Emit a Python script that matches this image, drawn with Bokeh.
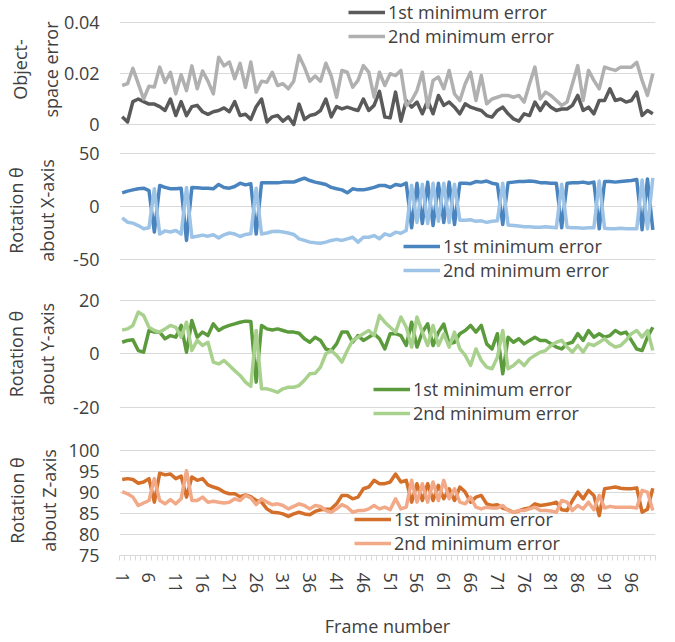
from bokeh.plotting import figure
from bokeh.layouts import column
from bokeh.models import Range1d, FixedTicker
from bokeh.embed import file_html
from bokeh.resources import INLINE

frames = list(range(1, 101))
x_tick_labels = list(range(1, 101, 5))

obj_1st = [0.0030, 0.0010, 0.0090, 0.0100, 0.0090, 0.0080, 0.0080, 0.0070, 0.0055, 0.0100,
           0.0035, 0.0090, 0.0035, 0.0070, 0.0075, 0.0050, 0.0040, 0.0050, 0.0055, 0.0065,
           0.0050, 0.0090, 0.0035, 0.0040, 0.0020, 0.0070, 0.0100, 0.0010, 0.0030, 0.0035,
           0.0013, 0.0030, 0.0000, 0.0080, 0.0020, 0.0035, 0.0040, 0.0055, 0.0100, 0.0030,
           0.0070, 0.0061, 0.0068, 0.0061, 0.0055, 0.0100, 0.0055, 0.0075, 0.0130, 0.0029,
           0.0026, 0.0127, 0.0013, 0.0094, 0.0068, 0.0088, 0.0042, 0.0094, 0.0042, 0.0114,
           0.0075, 0.0088, 0.0068, 0.0042, 0.0081, 0.0068, 0.0061, 0.0055, 0.0035, 0.0029,
           0.0055, 0.0068, 0.0042, 0.0022, 0.0013, 0.0042, 0.0035, 0.0088, 0.0055, 0.0088,
           0.0068, 0.0055, 0.0061, 0.0061, 0.0075, 0.0114, 0.0055, 0.0068, 0.0042, 0.0094,
           0.0094, 0.0140, 0.0094, 0.0100, 0.0088, 0.0094, 0.0127, 0.0035, 0.0055, 0.0042]
obj_2nd = [0.0153, 0.0160, 0.0220, 0.0160, 0.0100, 0.0150, 0.0147, 0.0225, 0.0165, 0.0205,
           0.0120, 0.0195, 0.0133, 0.0230, 0.0140, 0.0210, 0.0170, 0.0120, 0.0264, 0.0230,
           0.0245, 0.0180, 0.0240, 0.0146, 0.0245, 0.0127, 0.0170, 0.0166, 0.0205, 0.0153,
           0.0160, 0.0140, 0.0170, 0.0270, 0.0225, 0.0170, 0.0190, 0.0170, 0.0240, 0.0190,
           0.0107, 0.0212, 0.0205, 0.0146, 0.0173, 0.0231, 0.0205, 0.0107, 0.0205, 0.0153,
           0.0199, 0.0192, 0.0212, 0.0075, 0.0094, 0.0133, 0.0205, 0.0068, 0.0173, 0.0186,
           0.0140, 0.0212, 0.0120, 0.0094, 0.0160, 0.0205, 0.0094, 0.0192, 0.0081, 0.0100,
           0.0107, 0.0114, 0.0114, 0.0107, 0.0114, 0.0088, 0.0160, 0.0225, 0.0100, 0.0127,
           0.0114, 0.0094, 0.0075, 0.0088, 0.0160, 0.0231, 0.0094, 0.0212, 0.0173, 0.0140,
           0.0225, 0.0218, 0.0212, 0.0225, 0.0225, 0.0225, 0.0244, 0.0173, 0.0114, 0.0199]

rotx_1st = [12.9, 14.5, 15.7, 16.7, 17.3, 15.0, -24.0, 19.8, 18.0, 16.7,
            16.7, 17.3, -32.0, 18.0, 17.6, 17.3, 17.3, 16.7, 20.8, 18.0,
            17.3, 18.9, 22.0, 20.4, 21.4, -26.0, 22.3, 22.3, 22.3, 22.3,
            23.0, 23.0, 23.0, 25.0, 26.7, 24.5, 23.0, 22.0, 20.8, 18.0,
            16.7, 15.7, 12.9, 16.7, 15.7, 15.7, 16.7, 18.0, 19.8, 19.8,
            18.0, 20.8, 19.8, 22.0, -20.0, 22.0, -16.0, 23.0, -18.0, 22.0,
            -15.0, 23.0, -17.0, 22.0, 22.0, 21.5, 23.5, 23.0, 24.0, 22.0,
            21.0, -17.0, 22.5, 23.0, 23.5, 23.5, 24.0, 23.5, 22.5, 22.5,
            22.0, 22.0, -20.0, 22.0, 22.5, 22.5, 23.0, 22.0, 23.0, -21.0,
            23.5, 23.5, 23.0, 23.5, 24.0, 24.5, 25.5, -22.0, 26.0, -22.0]
rotx_2nd = [-10.7, -14.8, -15.7, -18.0, -21.0, -20.0, 16.7, -26.0, -23.0, -24.0,
            -22.6, -26.0, 18.0, -29.0, -28.0, -27.0, -28.0, -26.7, -29.6, -26.7,
            -25.0, -26.0, -28.3, -26.4, -25.8, 17.3, -26.0, -25.0, -23.6, -23.3,
            -24.0, -25.0, -26.4, -30.5, -32.0, -33.6, -34.3, -34.6, -33.6, -32.0,
            -31.0, -32.0, -30.5, -29.0, -33.6, -29.0, -29.0, -27.4, -30.5, -25.8,
            -27.4, -24.2, -25.2, -22.6, 20.0, -15.0, 21.0, -16.0, 22.0, -14.0,
            22.0, -15.0, 21.0, -13.0, -13.0, -12.5, -14.0, -13.5, -15.0, -14.0,
            -13.5, 22.0, -17.5, -18.0, -18.5, -19.0, -19.0, -19.5, -19.5, -19.0,
            -19.5, -20.0, 21.0, -19.5, -20.0, -20.0, -20.5, -20.0, -20.0, 24.0,
            -20.5, -21.0, -21.0, -20.5, -21.0, -21.0, -21.0, 25.0, -21.0, 27.0]

roty_1st = [4.2, 4.9, 5.1, 1.1, 0.5, 8.6, 8.0, 8.0, 5.5, 6.7,
            6.1, 10.5, 0.5, 12.3, 6.1, 8.0, 6.7, 11.1, 8.6, 9.8,
            10.5, 11.1, 11.7, 12.1, 12.0, -10.7, 10.5, 9.2, 8.8, 9.2,
            8.6, 8.0, 8.0, 7.6, 5.5, 4.2, 6.1, 4.9, 1.7, 1.1,
            3.6, 8.0, 8.0, 4.2, 6.7, 4.9, 6.1, 7.4, 5.5, 1.7,
            7.4, 7.4, 6.7, 3.0, 11.7, 2.4, 8.0, 11.1, 3.0, 8.0,
            11.0, 3.6, 4.2, 7.4, 8.6, 10.5, 8.0, 10.5, 3.6, 1.7,
            7.4, -7.6, 6.1, 4.2, 5.5, 3.6, 4.9, 6.1, 4.9, 4.9,
            3.6, 2.4, 1.7, 3.6, 4.2, 7.4, 4.9, 8.6, 6.1, 7.4,
            6.1, 6.7, 8.6, 7.4, 8.0, 4.9, 1.7, 1.1, 6.1, 9.8]
roty_2nd = [8.8, 9.2, 10.5, 15.5, 14.2, 9.8, 8.6, 8.0, 9.2, 10.5,
            9.8, 6.1, 11.7, 1.1, 4.9, 3.0, 4.2, -3.2, -3.9, -2.6,
            -4.5, -6.4, -8.2, -10.7, -12.3, 8.6, -13.2, -13.2, -13.8, -14.5,
            -13.2, -12.6, -12.6, -12.0, -10.0, -7.6, -7.4, -5.1, -0.1, 1.1,
            -0.7, -3.2, 1.1, 4.9, 6.1, 7.4, 8.6, 6.7, 14.2, 11.7,
            9.8, 8.0, 13.6, 9.8, 2.4, 13.6, 8.0, 3.0, 10.5, 3.0,
            7.4, 2.4, 8.0, 1.7, -0.7, -4.5, 1.7, -2.6, -5.1, -5.7,
            -1.4, 8.6, -5.7, -4.5, -2.6, -4.5, -2.0, -0.7, 0.5, 1.1,
            3.0, 4.2, 4.9, 2.4, 0.5, 3.0, 0.5, 3.6, 3.0, 4.2,
            5.5, 3.6, 2.4, 3.0, 4.9, 7.4, 8.6, 6.1, 8.6, 1.1]

rotz_1st = [93.1, 93.3, 93.1, 92.2, 92.5, 93.3, 87.7, 94.6, 94.2, 94.4,
            93.3, 93.9, 88.9, 93.7, 92.9, 93.3, 91.8, 91.3, 90.9, 90.1,
            89.7, 89.7, 89.0, 89.4, 89.0, 88.1, 87.7, 86.1, 85.3, 85.2,
            84.9, 84.3, 84.9, 85.3, 84.9, 84.7, 85.5, 85.9, 86.0, 86.1,
            87.3, 89.3, 89.3, 88.5, 88.9, 90.9, 91.3, 92.9, 92.1, 92.1,
            92.5, 94.4, 92.5, 92.9, 87.7, 92.1, 88.1, 92.1, 88.1, 91.7,
            88.5, 90.9, 88.1, 91.3, 90.1, 87.7, 88.9, 89.3, 87.3, 86.9,
            87.1, 86.3, 85.9, 85.3, 85.6, 86.1, 86.3, 87.3, 86.9, 87.1,
            87.3, 87.7, 85.9, 85.7, 88.1, 90.1, 88.5, 90.5, 89.3, 84.5,
            90.9, 91.1, 91.3, 91.0, 90.9, 90.9, 91.1, 85.3, 86.0, 91.0]
rotz_2nd = [90.2, 89.7, 88.9, 86.9, 87.5, 88.1, 93.3, 88.1, 87.3, 88.3,
            87.3, 88.5, 95.2, 88.1, 88.1, 88.9, 87.7, 87.9, 87.7, 87.5,
            87.7, 88.5, 88.1, 89.3, 88.7, 87.1, 88.5, 87.7, 87.1, 87.3,
            86.9, 86.1, 86.7, 87.3, 86.9, 86.1, 86.9, 86.7, 85.7, 85.3,
            86.1, 87.1, 86.5, 85.3, 85.7, 85.7, 86.1, 86.9, 86.1, 86.5,
            85.9, 88.5, 86.1, 86.5, 92.9, 87.7, 92.1, 87.7, 92.5, 88.1,
            92.9, 88.5, 90.9, 87.7, 87.3, 88.9, 86.5, 86.1, 86.5, 86.3,
            86.3, 86.9, 85.7, 85.3, 85.7, 85.7, 86.1, 86.5, 85.7, 85.7,
            85.6, 85.3, 88.1, 87.7, 85.7, 86.9, 86.1, 87.7, 85.9, 89.3,
            86.3, 86.7, 86.5, 86.5, 86.5, 86.5, 86.3, 90.5, 90.1, 85.7]

series_names = ["1st minimum error", "2nd minimum error"]

FONT = "Open Sans"
TXT = "#404040"
GRID = "#D9D9D9"
FS = "18px"

x_range = Range1d(0.5, 100.5)


def make_panel(height, y0, y1, ticks, labels, title, first, second, colors,
               border_top, border_bottom, title_standoff, legend_loc, legend_spacing,
               show_x=False):
    p = figure(width=675, height=height, x_range=x_range, y_range=Range1d(y0, y1),
               output_backend="svg", toolbar_location=None,
               x_axis_location="below" if show_x else None,
               min_border_left=117, min_border_right=20,
               min_border_top=border_top, min_border_bottom=border_bottom)
    p.outline_line_color = None
    p.background_fill_color = "white"
    p.border_fill_color = "white"
    t = FixedTicker(ticks=ticks)
    p.yaxis.ticker = t
    p.ygrid.ticker = t
    p.ygrid.grid_line_color = GRID
    p.ygrid.grid_line_width = 1
    p.yaxis.major_label_overrides = {k: v for k, v in zip(ticks, labels)}
    p.yaxis.axis_line_color = None
    p.yaxis.major_tick_line_color = None
    p.yaxis.minor_tick_line_color = None
    p.yaxis.major_tick_out = 0
    p.yaxis.major_tick_in = 0
    p.yaxis.major_label_standoff = 20
    p.yaxis.major_label_text_font = FONT
    p.yaxis.major_label_text_font_size = FS
    p.yaxis.major_label_text_color = TXT
    p.yaxis.axis_label = title
    p.yaxis.axis_label_text_font = FONT
    p.yaxis.axis_label_text_font_size = FS
    p.yaxis.axis_label_text_font_style = "normal"
    p.yaxis.axis_label_text_color = TXT
    p.yaxis.axis_label_text_line_height = 1.3
    p.yaxis.axis_label_standoff = title_standoff
    p.xgrid.visible = False
    if show_x:
        xt = FixedTicker(ticks=x_tick_labels, minor_ticks=[k + 0.5 for k in range(0, 101)])
        p.xaxis.ticker = xt
        p.xaxis.axis_line_color = GRID
        p.xaxis.axis_line_width = 1
        p.xaxis.major_tick_line_color = None
        p.xaxis.major_tick_out = 0
        p.xaxis.major_tick_in = 0
        p.xaxis.minor_tick_line_color = GRID
        p.xaxis.minor_tick_out = 5
        p.xaxis.minor_tick_in = 0
        p.xaxis.major_label_orientation = "vertical"
        p.xaxis.major_label_standoff = 12
        p.xaxis.major_label_text_font = FONT
        p.xaxis.major_label_text_font_size = FS
        p.xaxis.major_label_text_color = TXT
        p.xaxis.axis_label = "Frame number"
        p.xaxis.axis_label_text_font = FONT
        p.xaxis.axis_label_text_font_size = FS
        p.xaxis.axis_label_text_font_style = "normal"
        p.xaxis.axis_label_text_color = TXT
        p.xaxis.axis_label_standoff = 18

    p.line(frames, first, line_color=colors[0], line_width=3.5, line_join="round",
           legend_label=series_names[0])
    p.line(frames, second, line_color=colors[1], line_width=3.5, line_join="round",
           legend_label=series_names[1])
    lg = p.legend[0]
    lg.location = legend_loc
    lg.background_fill_alpha = 0
    lg.border_line_color = None
    lg.padding = 0
    lg.margin = 0
    lg.spacing = legend_spacing
    lg.glyph_width = 37
    lg.glyph_height = 20
    lg.label_height = 20
    lg.label_standoff = 3
    lg.label_text_font = FONT
    lg.label_text_font_size = FS
    lg.label_text_color = TXT
    return p


p1 = make_panel(138, -14 / 2550, 124 / 2550, [0, 0.02, 0.04], ["0", "0.02", "0.04"],
                "Object-\nspace error", obj_1st, obj_2nd, ["#5A5A5A", "#B0B0B0"],
                0, 0, -2, (229, 90), -3)
p2 = make_panel(144, -76 / 1.06, 68 / 1.06, [-50, 0, 50], ["-50", "0", "50"],
                "Rotation θ\nabout X-axis", rotx_1st, rotx_2nd, ["#4A84BF", "#9DC3E6"],
                0, 0, 11, (284, 0), -3)
p3 = make_panel(143, -72 / 2.675, 71 / 2.675, [-20, 0, 20], ["-20", "0", "20"],
                "Rotation θ\nabout Y-axis", roty_1st, roty_2nd, ["#5B9B3C", "#A9D18E"],
                0, 0, 11, (254, 0), 0)
p4 = make_panel(217, 75, 75 + 110 / 4.2, [75, 80, 85, 90, 95, 100],
                ["75", "80", "85", "90", "95", "100"],
                "Rotation θ\nabout Z-axis", rotz_1st, rotz_2nd, ["#D46F2A", "#F2A987"],
                20, 87, 5, (235, 0), -2, show_x=True)

layout = column(p1, p2, p3, p4, spacing=0)
open("out.html", "w").write(file_html(layout, INLINE))
